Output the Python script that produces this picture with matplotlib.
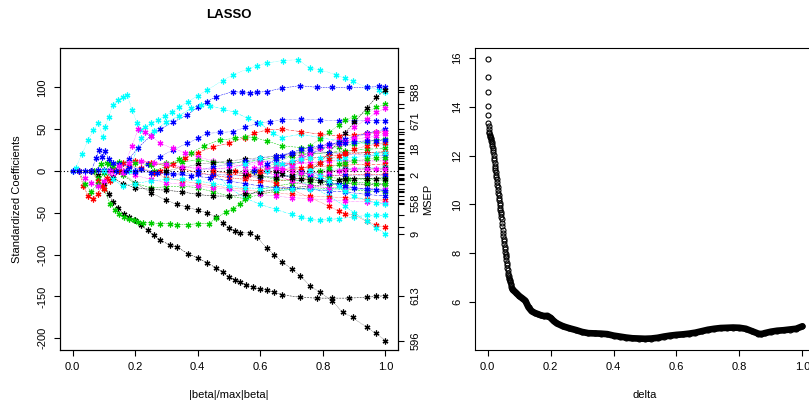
import numpy as np
import matplotlib
matplotlib.use('Agg')
import matplotlib.pyplot as plt

plt.rcParams['font.family'] = ['Liberation Sans', 'DejaVu Sans']
plt.rcParams['axes.unicode_minus'] = False

# R palette used by matplot (cols 1:6)
pal = {'k': '#000000', 'r': '#FF0000', 'g': '#00CD00', 'b': '#0000FF', 'c': '#00FFFF', 'm': '#FF00FF'}

# LASSO coefficient paths (|beta|/max|beta| knots, std. coefficients)
path_col = []
path_x = []
path_y = []
path_names = []

def add(c, xs, ys, name=''):
    path_col.append(c); path_x.append(xs); path_y.append(ys); path_names.append(name)

# cyan, the big top one
add('c', [0.0, 0.01, 0.03, 0.05, 0.067, 0.083, 0.096, 0.105, 0.115, 0.13, 0.145, 0.16, 0.175, 0.19, 0.207, 0.217,
          0.232, 0.25, 0.274, 0.295, 0.318, 0.34, 0.37, 0.40, 0.43, 0.48, 0.513, 0.56, 0.59, 0.62, 0.672, 0.72, 0.758,
          0.79, 0.843, 0.87, 0.895, 0.94, 0.98, 1.0],
    [0, 4, 20, 37, 49, 57, 41, 53, 65, 79, 85, 89, 91, 73, 57, 49,
     53, 57, 61, 66, 71, 76, 83, 90, 97, 108, 115, 122, 126, 129, 132, 133, 123,
     121, 115, 111, 107, 100, 97, 95], '588')
# blue top
add('b', [0.15, 0.18, 0.21, 0.25, 0.28, 0.32, 0.366, 0.40, 0.43, 0.46, 0.513, 0.54, 0.567, 0.59, 0.62, 0.67, 0.726,
          0.78, 0.83, 0.885, 0.94, 0.98, 1.0],
    [0, 14, 28, 42, 50, 58, 67, 76, 83, 89, 95, 94, 93, 94, 95, 99, 102, 100, 100, 100, 100, 101, 100])
# blue second
add('b', [0.2, 0.24, 0.28, 0.32, 0.366, 0.40, 0.43, 0.47, 0.513, 0.55, 0.59, 0.63, 0.67, 0.73, 0.79, 0.85, 0.90,
          0.94, 0.97, 1.0],
    [0, 8, 17, 25, 33, 39, 45, 46, 47, 52, 57, 59, 61, 62, 61, 60, 60, 60, 60, 60], '671')
# cyan second
add('c', [0.18, 0.22, 0.26, 0.30, 0.34, 0.38, 0.41, 0.44, 0.48, 0.52, 0.56, 0.60, 0.64, 0.67, 0.73, 0.79, 0.85,
          0.90, 0.94, 1.0],
    [0, 40, 48, 58, 66, 75, 79, 78, 74, 70, 63, 57, 45, 40, 44, 40, 36, 34, 33, 32])
# black, big negative
add('k', [0.06, 0.08, 0.1, 0.115, 0.13, 0.145, 0.163, 0.18, 0.2, 0.22, 0.24, 0.26, 0.28, 0.31, 0.334, 0.37, 0.40,
          0.43, 0.46, 0.48, 0.50, 0.52, 0.535, 0.555, 0.577, 0.60, 0.62, 0.645, 0.67, 0.726, 0.78, 0.83, 0.885,
          0.94, 0.97, 1.0],
    [0, -5, -15, -27, -37, -44, -51, -55, -59, -65, -71, -77, -83, -88, -91, -99, -104,
     -110, -116, -121, -127, -130, -133, -136, -139, -141, -142, -145, -148, -151, -152, -152, -152,
     -151, -150, -149], '613')
# black, second negative
add('k', [0.15, 0.2, 0.25, 0.3, 0.334, 0.366, 0.40, 0.43, 0.46, 0.48, 0.50, 0.52, 0.535, 0.567, 0.59, 0.62, 0.645,
          0.67, 0.70, 0.726, 0.758, 0.79, 0.83, 0.863, 0.895, 0.94, 0.97, 1.0],
    [0, -14, -26, -35, -40, -43, -47, -50, -55, -62, -68, -72, -74, -74, -79, -92, -100,
     -109, -117, -125, -137, -145, -155, -169, -175, -187, -194, -203], '596')
# green, big dip
add('g', [0.06, 0.08, 0.1, 0.12, 0.137, 0.15, 0.163, 0.18, 0.195, 0.21, 0.226, 0.25, 0.28, 0.31, 0.334, 0.37,
          0.40, 0.435, 0.46, 0.49, 0.513, 0.535, 0.56, 0.6, 0.65, 0.7, 0.76, 0.82, 0.88, 0.94, 1.0],
    [0, -8, -22, -39, -47, -51, -55, -57, -59, -61, -62, -62, -63, -63, -64, -64,
     -63, -63, -56, -49, -45, -39, -30, -22, -18, -15, -14, -12, -10, -9, -8])
add('r', [0.52, 0.56, 0.6, 0.65, 0.7, 0.76, 0.82, 0.85, 0.87, 0.9, 0.94, 0.97, 1.0],
    [0, -5, -10, -15, -22, -32, -42, -48, -51, -53, -60, -65, -67])
add('c', [0.45, 0.5, 0.55, 0.6, 0.65, 0.7, 0.73, 0.76, 0.79, 0.82, 0.85, 0.9, 0.94, 0.97, 1.0],
    [0, -20, -32, -40, -46, -52, -55, -58, -59, -58, -57, -55, -53, -53, -53])
add('c', [0.65, 0.7, 0.76, 0.82, 0.87, 0.9, 0.94, 0.97, 1.0],
    [0, -8, -18, -30, -42, -50, -60, -68, -75], '9')
add('g', [0.58, 0.62, 0.65, 0.7, 0.73, 0.76, 0.79, 0.82, 0.85, 0.87, 0.9, 0.94, 0.97, 1.0],
    [0, 5, 10, 18, 24, 30, 38, 46, 55, 61, 65, 70, 76, 80])
add('k', [0.76, 0.79, 0.82, 0.85, 0.87, 0.9, 0.94, 0.97, 1.0],
    [0, 10, 22, 35, 45, 58, 75, 88, 97])
add('m', [0.62, 0.67, 0.73, 0.79, 0.85, 0.9, 0.94, 0.97, 1.0],
    [0, 8, 18, 28, 40, 52, 62, 70, 75])
add('r', [0.28, 0.32, 0.36, 0.40, 0.45, 0.5, 0.55, 0.58, 0.62, 0.67, 0.73, 0.79, 0.85, 0.9, 0.94, 0.97, 1.0],
    [0, 8, 16, 22, 29, 33, 40, 45, 49, 50, 47, 44, 42, 43, 45, 46, 47])
add('g', [0.26, 0.3, 0.34, 0.38, 0.42, 0.47, 0.52, 0.55, 0.58, 0.62, 0.67, 0.73, 0.79, 0.85, 0.9, 0.94, 0.97, 1.0],
    [0, 6, 14, 22, 30, 37, 39, 41, 40, 36, 30, 28, 27, 29, 32, 35, 37, 38])
add('m', [0.16, 0.19, 0.21, 0.23, 0.25, 0.28, 0.32, 0.36, 0.4, 0.45, 0.5, 0.55, 0.6, 0.65, 0.7, 0.76, 0.82, 0.87,
          0.9, 0.94, 0.97, 1.0],
    [0, 30, 50, 47, 42, 33, 27, 22, 17, 12, 8, 6, 10, 15, 20, 26, 32, 36, 38, 40, 42, 44])
add('r', [0.02, 0.035, 0.05, 0.065, 0.08, 0.095, 0.11, 0.13, 0.16, 0.2, 0.25, 0.3, 0.35, 0.4, 0.45, 0.5, 0.55, 0.6,
          0.65, 0.7, 0.76, 0.82, 0.87, 0.94, 1.0],
    [0, -18, -30, -33, -28, -18, -8, 2, 9, 12, 10, 6, 3, -2, -5, -8, -10, -12, -12, -10, -8, -6, -5, -4, -4])
add('r', [0.06, 0.08, 0.1, 0.12, 0.15, 0.18, 0.22, 0.26, 0.3, 0.35, 0.4, 0.45, 0.5, 0.55, 0.6, 0.65, 0.7, 0.76,
          0.82, 0.87, 0.94, 1.0],
    [0, -12, -22, -12, 0, 6, 4, -2, -8, -12, -15, -18, -20, -22, -25, -26, -28, -30, -31, -32, -34, -35])
add('g', [0.02, 0.04, 0.06, 0.08, 0.1, 0.12, 0.15, 0.2, 0.25, 0.3, 0.35, 0.4, 0.45, 0.5, 0.55, 0.6, 0.65, 0.7,
          0.76, 0.82, 0.87, 0.94, 1.0],
    [0, -15, -25, -15, -2, 8, 11, 10, 7, 9, 11, 13, 11, 9, 11, 13, 16, 18, 20, 22, 24, 26, 27], '18')
add('g', [0.07, 0.09, 0.11, 0.13, 0.16, 0.2, 0.25, 0.3, 0.35, 0.4, 0.45, 0.5, 0.55, 0.6, 0.65, 0.7, 0.76, 0.82,
          0.87, 0.94, 1.0],
    [0, 8, 10, 6, -5, -15, -20, -19, -18, -20, -25, -30, -33, -28, -24, -22, -20, -21, -22, -24, -25])
add('m', [0.02, 0.04, 0.06, 0.08, 0.1, 0.13, 0.16, 0.2, 0.25, 0.3, 0.35, 0.4, 0.45, 0.5, 0.55, 0.6, 0.65, 0.7,
          0.76, 0.82, 0.87, 0.94, 1.0],
    [0, -8, -14, -18, -12, -6, -2, -5, -10, -14, -16, -18, -20, -22, -25, -28, -30, -32, -33, -35, -36, -37, -38], '558')
add('k', [0.1, 0.13, 0.16, 0.2, 0.25, 0.3, 0.35, 0.4, 0.45, 0.5, 0.55, 0.6, 0.65, 0.7, 0.76, 0.82, 0.87, 0.94, 1.0],
    [0, -8, -15, -20, -22, -23, -25, -28, -30, -30, -28, -25, -22, -20, -18, -16, -15, -16, -16])
add('b', [0.0, 0.02, 0.04, 0.06, 0.08, 0.1, 0.12, 0.14, 0.17, 0.2, 0.25, 0.3, 0.35, 0.4, 0.45, 0.5, 0.55, 0.6,
          0.65, 0.7, 0.76, 0.82, 0.87, 0.94, 1.0],
    [0, 0, 0, 0, 1, 1, 1, 0, 0, -1, -2, -3, -3, -4, -4, -5, -6, -7, -7, -6, -6, -5, -5, -5, -5], '2')
add('b', [0.06, 0.075, 0.085, 0.095, 0.105, 0.115, 0.13, 0.15, 0.18, 0.22, 0.27, 0.32, 0.38, 0.44, 0.5, 0.55, 0.6,
          0.65, 0.7, 0.76, 0.82, 0.87, 0.94, 1.0],
    [0, 15, 25, 17, 24, 14, 10, 8, 5, 2, -2, -4, -6, -8, -12, -15, -18, -20, -20, -22, -24, -25, -28, -30])
add('c', [0.1, 0.13, 0.16, 0.2, 0.25, 0.3, 0.35, 0.4, 0.45, 0.5, 0.55, 0.6, 0.65, 0.7, 0.76, 0.82, 0.87, 0.94, 1.0],
    [0, -10, -18, -15, -12, -10, -10, -12, -15, -18, -20, -21, -22, -22, -22, -22, -21, -22, -22])
add('k', [0.3, 0.35, 0.4, 0.45, 0.5, 0.55, 0.6, 0.65, 0.7, 0.76, 0.82, 0.87, 0.94, 1.0],
    [0, 4, 8, 10, 12, 14, 16, 18, 20, 21, 22, 22, 22, 22])
add('m', [0.12, 0.15, 0.18, 0.22, 0.26, 0.3, 0.35, 0.4, 0.45, 0.5, 0.55, 0.6, 0.65, 0.7, 0.76, 0.82, 0.87, 0.94, 1.0],
    [0, 6, 10, 12, 10, 8, 5, 3, 2, 4, 8, 12, 10, 8, 10, 12, 12, 12, 12])
add('b', [0.4, 0.45, 0.5, 0.55, 0.6, 0.65, 0.7, 0.76, 0.82, 0.87, 0.94, 1.0],
    [0, 5, 8, 12, 15, 18, 22, 24, 22, 20, 19, 18])
add('r', [0.45, 0.5, 0.55, 0.6, 0.65, 0.7, 0.76, 0.82, 0.87, 0.94, 1.0],
    [0, -3, -6, -4, 0, 3, 5, 6, 7, 8, 8])
add('g', [0.55, 0.6, 0.65, 0.7, 0.76, 0.82, 0.87, 0.94, 1.0],
    [0, -6, -10, -12, -10, -8, -9, -10, -11])
add('c', [0.5, 0.55, 0.6, 0.65, 0.7, 0.76, 0.82, 0.87, 0.94, 1.0],
    [0, 8, 15, 10, 5, 3, 2, 3, 4, 5])
add('m', [0.6, 0.65, 0.7, 0.76, 0.82, 0.87, 0.94, 1.0],
    [0, -5, -12, -18, -20, -20, -21, -22])
add('k', [0.5, 0.55, 0.6, 0.65, 0.7, 0.76, 0.82, 0.87, 0.94, 1.0],
    [0, -4, -6, -8, -5, -2, 0, 2, 3, 3])
add('b', [0.65, 0.7, 0.76, 0.82, 0.87, 0.94, 1.0],
    [0, 10, 20, 30, 38, 45, 50])
add('r', [0.6, 0.65, 0.7, 0.76, 0.82, 0.87, 0.94, 1.0],
    [0, 5, 10, 15, 18, 20, 22, 23])
# late entries crowding the right-hand columns
add('m', [0.67, 0.7, 0.73, 0.76, 0.79, 0.82, 0.85, 0.87, 0.9, 0.94, 0.97, 1.0],
    [0, 6, 12, 20, 28, 30, 32, 35, 40, 44, 46, 47])
add('g', [0.7, 0.73, 0.76, 0.79, 0.82, 0.85, 0.87, 0.9, 0.94, 0.97, 1.0],
    [0, -4, -8, -12, -15, -16, -15, -14, -14, -15, -15])
add('c', [0.62, 0.65, 0.67, 0.7, 0.73, 0.76, 0.79, 0.82, 0.85, 0.87, 0.9, 0.94, 0.97, 1.0],
    [0, 5, 8, 12, 14, 15, 16, 15, 14, 15, 16, 18, 20, 21])
add('b', [0.73, 0.76, 0.79, 0.82, 0.85, 0.87, 0.9, 0.94, 0.97, 1.0],
    [0, -5, -10, -14, -16, -18, -20, -22, -23, -24])
add('k', [0.65, 0.67, 0.7, 0.73, 0.76, 0.79, 0.82, 0.85, 0.87, 0.9, 0.94, 0.97, 1.0],
    [0, -4, -8, -10, -11, -12, -12, -11, -10, -9, -9, -9, -9])
add('r', [0.7, 0.73, 0.76, 0.79, 0.82, 0.85, 0.87, 0.9, 0.94, 0.97, 1.0],
    [0, 3, 6, 10, 14, 18, 22, 26, 30, 32, 33])
add('m', [0.55, 0.58, 0.62, 0.65, 0.67, 0.7, 0.73, 0.76, 0.79, 0.82, 0.85, 0.87, 0.9, 0.94, 0.97, 1.0],
    [0, 3, 5, 4, 2, 0, -2, -3, -2, -1, 0, 1, 2, 2, 2, 2])
add('g', [0.79, 0.82, 0.85, 0.87, 0.9, 0.94, 0.97, 1.0],
    [0, 4, 8, 10, 12, 14, 15, 16])
add('c', [0.76, 0.79, 0.82, 0.85, 0.87, 0.9, 0.94, 0.97, 1.0],
    [0, -6, -12, -18, -24, -30, -35, -38, -40])
add('b', [0.58, 0.62, 0.65, 0.67, 0.7, 0.73, 0.76, 0.79, 0.82, 0.85, 0.87, 0.9, 0.94, 0.97, 1.0],
    [0, 8, 14, 18, 22, 26, 28, 30, 32, 33, 34, 35, 36, 36, 37])

# MSEP vs delta
steep_delta = [0.000, 0.000, 0.001, 0.001, 0.001, 0.002, 0.003, 0.004, 0.005, 0.006, 0.007, 0.008, 0.009, 0.010,
               0.011, 0.012, 0.013, 0.014, 0.015, 0.016, 0.017, 0.018, 0.019, 0.020, 0.021, 0.022, 0.023, 0.024,
               0.025, 0.026, 0.027, 0.028, 0.029, 0.030, 0.031, 0.032, 0.033, 0.034, 0.035, 0.036, 0.037, 0.038,
               0.039, 0.040, 0.041, 0.042, 0.043, 0.044, 0.045, 0.046, 0.047, 0.048, 0.049, 0.050, 0.051, 0.052,
               0.053, 0.054, 0.055, 0.056, 0.057, 0.058, 0.059, 0.060, 0.061, 0.062, 0.063, 0.064, 0.065, 0.066,
               0.067, 0.068, 0.069, 0.070, 0.071, 0.072, 0.073, 0.074, 0.075, 0.077, 0.079]
steep_msep = [15.96, 15.24, 14.59, 14.05, 13.66, 13.35, 13.20, 13.08, 12.98, 12.92, 12.86, 12.81, 12.76, 12.71,
              12.66, 12.61, 12.55, 12.48, 12.40, 12.32, 12.23, 12.13, 12.02, 11.91, 11.80, 11.69, 11.58, 11.49,
              11.40, 11.31, 11.22, 11.13, 11.03, 10.92, 10.81, 10.70, 10.59, 10.48, 10.37, 10.27, 10.16, 10.06,
              9.96, 9.86, 9.77, 9.68, 9.59, 9.49, 9.38, 9.24, 9.10, 8.96, 8.82, 8.71, 8.60, 8.49,
              8.38, 8.27, 8.16, 8.05, 7.95, 7.89, 7.83, 7.72, 7.61, 7.50, 7.40, 7.29, 7.18, 7.12,
              7.06, 7.00, 6.95, 6.90, 6.85, 6.80, 6.74, 6.69, 6.63, 6.58, 6.52]
flat_delta = [0.08, 0.09, 0.10, 0.11, 0.12, 0.13, 0.14, 0.15, 0.16, 0.17, 0.18, 0.19, 0.20, 0.21, 0.22, 0.24, 0.26,
              0.28, 0.30, 0.32, 0.34, 0.36, 0.38, 0.40, 0.42, 0.44, 0.46, 0.48, 0.50, 0.52, 0.54, 0.56, 0.58, 0.60,
              0.62, 0.64, 0.66, 0.68, 0.70, 0.72, 0.74, 0.76, 0.78, 0.80, 0.82, 0.84, 0.86, 0.87, 0.88, 0.90, 0.92,
              0.94, 0.96, 0.98, 1.00]
flat_msep = [6.50, 6.38, 6.25, 6.15, 6.05, 5.78, 5.62, 5.55, 5.50, 5.45, 5.42, 5.43, 5.35, 5.22, 5.12, 5.00, 4.92,
             4.85, 4.77, 4.72, 4.71, 4.70, 4.68, 4.62, 4.58, 4.54, 4.51, 4.50, 4.49, 4.50, 4.53, 4.58, 4.62, 4.65,
             4.67, 4.70, 4.74, 4.80, 4.86, 4.90, 4.93, 4.94, 4.95, 4.94, 4.90, 4.80, 4.70, 4.68, 4.72, 4.78, 4.82,
             4.84, 4.87, 4.90, 5.00]

W, H = 809, 407
fig = plt.figure(figsize=(W / 100, H / 100), dpi=100)

tick_kw = dict(direction='out', length=4, width=0.8, labelsize=8, pad=5, colors='black')

# ---- left: LASSO paths
ax = fig.add_axes([60 / W, 57 / H, 338 / W, 302 / H])
lstyles = [':', '--', ':', '-.', (0, (4, 2))]
for i in range(len(path_x)):
    ax.plot(path_x[i], path_y[i], color=pal[path_col[i]], ls=lstyles[i % 5], lw=0.35,
            marker=(6, 2, 0), ms=4.2, mew=0.9)
ax.axhline(0, color='black', ls=(0, (1, 2)), lw=0.8)
ax.set_xlim(-0.04, 1.04)
ax.set_ylim(-214, 147)
ax.set_xticks([0, 0.2, 0.4, 0.6, 0.8, 1.0])
ax.set_xticklabels(['0.0', '0.2', '0.4', '0.6', '0.8', '1.0'])
ax.set_yticks([-200, -150, -100, -50, 0, 50, 100])
ax.tick_params(**tick_kw)
for t in ax.get_yticklabels():
    t.set_rotation(90); t.set_va('center')
ax.set_xlabel('|beta|/max|beta|', fontsize=8, va='center')
ax.xaxis.set_label_coords(0.5, -0.149)
ax.set_ylabel('Standardized Coefficients', fontsize=8, va='center')
ax.yaxis.set_label_coords(-0.127, 0.5)
for s in ax.spines.values():
    s.set_linewidth(0.8)

ax2 = ax.twinx()
ax2.set_ylim(ax.get_ylim())
ax2.set_yticks([ys[-1] for ys in path_y])
ax2.set_yticklabels(path_names)
ax2.tick_params(**tick_kw)
for t in ax2.get_yticklabels():
    t.set_rotation(90); t.set_va('center')

fig.text(229 / W, 1 - 15 / H, 'LASSO', fontsize=9.5, fontweight='bold', ha='center', va='center')

# ---- right: MSEP
bx = fig.add_axes([475 / W, 57 / H, 340 / W, 302 / H])
bx.plot(flat_delta, flat_msep, color='black', lw=4.8, solid_capstyle='round')
bx.plot(flat_delta, flat_msep, 'o', mfc='none', mec='black', ms=3.6, mew=0.8)
bx.plot(steep_delta, steep_msep, 'o', mfc='none', mec='black', ms=3.6, mew=0.8)
bx.set_xlim(-0.04, 1.04)
bx.set_ylim(4.03, 16.41)
bx.set_xticks([0, 0.2, 0.4, 0.6, 0.8, 1.0])
bx.set_xticklabels(['0.0', '0.2', '0.4', '0.6', '0.8', '1.0'])
bx.set_yticks([6, 8, 10, 12, 14, 16])
bx.tick_params(**tick_kw)
for t in bx.get_yticklabels():
    t.set_rotation(90); t.set_va('center')
bx.set_xlabel('delta', fontsize=8, va='center')
bx.xaxis.set_label_coords(0.5, -0.149)
bx.set_ylabel('MSEP', fontsize=8, va='center')
bx.yaxis.set_label_coords(-0.138, 0.5)
for s in bx.spines.values():
    s.set_linewidth(0.8)

fig.savefig('out.png', dpi=100)
